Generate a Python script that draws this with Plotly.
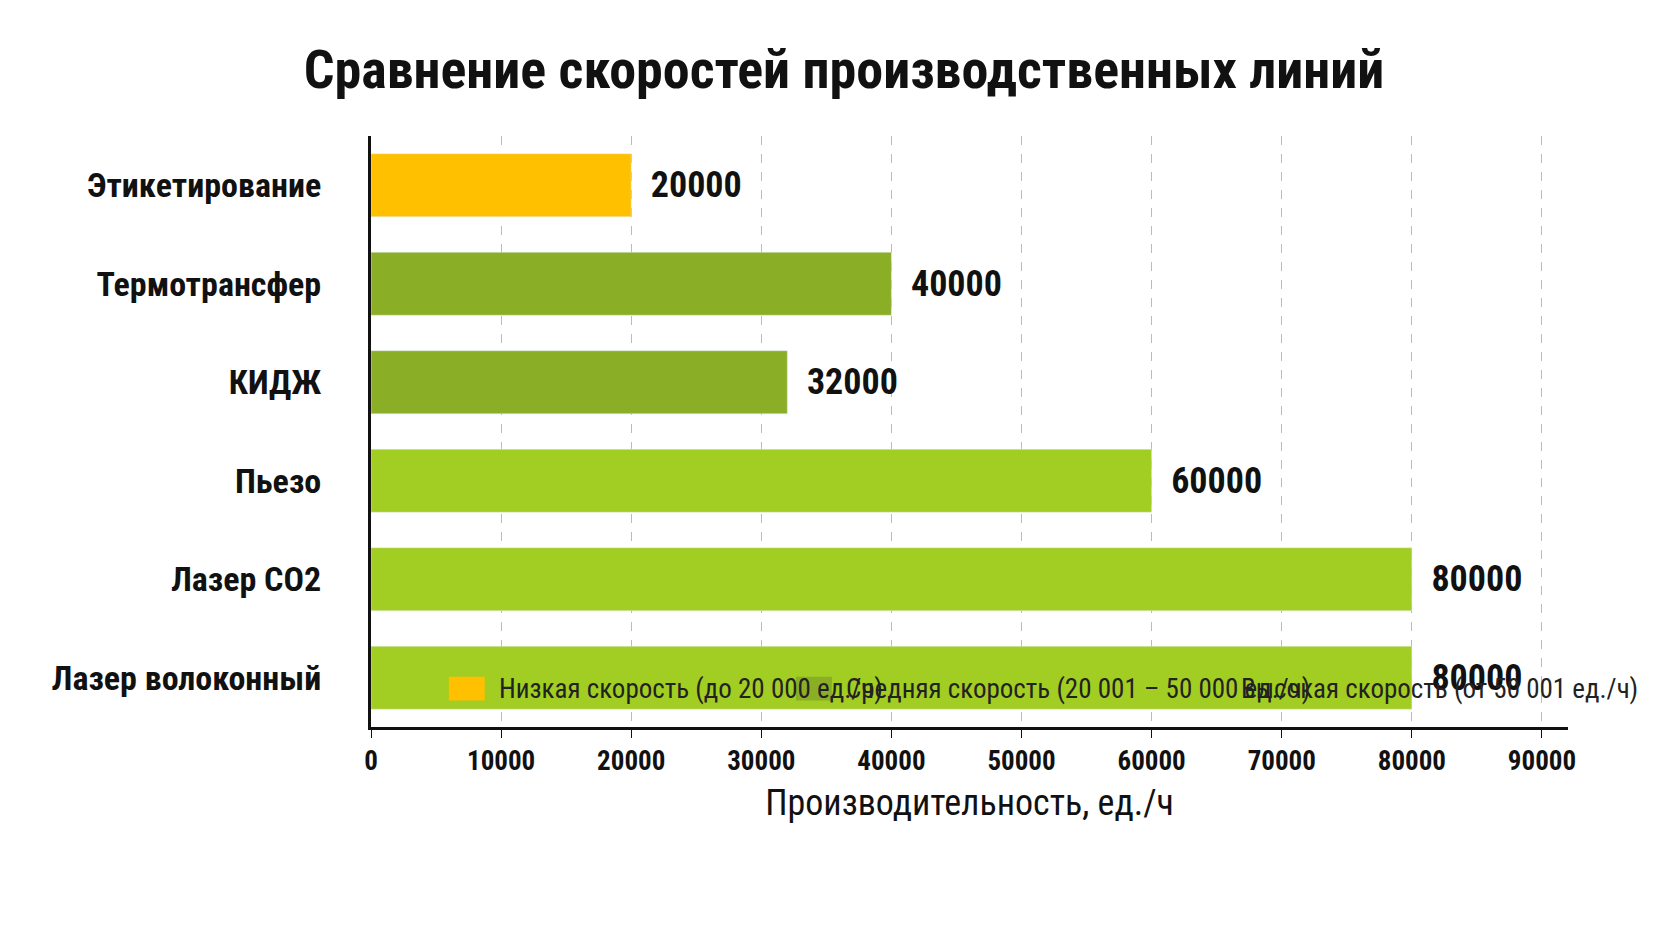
import plotly.graph_objects as go

lines = ["Этикетирование", "Термотрансфер", "КИДЖ", "Пьезо", "Лазер CO2", "Лазер волоконный"]
speeds = [20000, 40000, 32000, 60000, 80000, 80000]
groups = ["low", "mid", "mid", "high", "high", "high"]

group_names = {
    "low": "Низкая скорость (до 20 000 ед./ч)",
    "mid": "Средняя скорость (20 001 – 50 000 ед./ч)",
    "high": "Высокая скорость (от 50 001 ед./ч)",
}
group_colors = {"low": "#FFC000", "mid": "#8BAE27", "high": "#A2CD22"}

FONT = "Roboto Condensed, Liberation Sans Narrow, DejaVu Sans Condensed, sans-serif"

fig = go.Figure()
for g in ["low", "mid", "high"]:
    ys = [l for l, gg in zip(lines, groups) if gg == g]
    xs = [s for s, gg in zip(speeds, groups) if gg == g]
    fig.add_trace(go.Bar(
        x=xs, y=ys, orientation="h", name=group_names[g],
        marker=dict(color=group_colors[g]), showlegend=False,
        text=["  <b>%d</b>" % v for v in xs], textposition="outside",
        textfont=dict(size=36, color="#111", family=FONT),
        cliponaxis=False, width=0.64,
    ))

# legend drawn by hand: big square swatches in one row
legend_x = [0.065, 0.355, 0.685]
for g, lx in zip(["low", "mid", "high"], legend_x):
    fig.add_shape(type="rect", xref="paper", yref="paper",
                  x0=lx, x1=lx + 0.03, y0=0.085, y1=0.045,
                  fillcolor=group_colors[g], line=dict(width=0))
    fig.add_annotation(text=group_names[g], xref="paper", yref="paper",
                       x=lx + 0.04, y=0.065, xanchor="left", yanchor="middle",
                       showarrow=False, font=dict(size=27, color="#222"))

fig.update_layout(
    width=1672, height=941,
    paper_bgcolor="white", plot_bgcolor="white",
    font=dict(family=FONT, color="#111"),
    barmode="overlay",
    title=dict(text="<b>Сравнение скоростей производственных линий</b>",
               x=0.5, xanchor="center", y=0.955, font=dict(size=54, color="#111")),
    margin=dict(l=363, r=112, t=128, b=222),
    xaxis=dict(range=[0, 92000], dtick=10000, showgrid=True, gridcolor="#bbb",
               griddash="dash", gridwidth=1, showline=True, linecolor="#111", linewidth=3,
               ticks="outside", ticklen=8, tickcolor="#111", tickformat="d",
               tickfont=dict(size=27, color="#111"),
               title=dict(text="Производительность, ед./ч", font=dict(size=36, color="#111"),
                          standoff=14)),
    yaxis=dict(categoryorder="array", categoryarray=lines[::-1], showline=True,
               linecolor="#111", linewidth=3, ticks="", ticklabelstandoff=40,
               tickfont=dict(size=34, color="#111")),
)
fig.update_yaxes(tickvals=lines, ticktext=["<b>%s</b>" % l for l in lines])
fig.update_xaxes(tickvals=list(range(0, 90001, 10000)),
                 ticktext=["<b>%d</b>" % v for v in range(0, 90001, 10000)])

fig.write_html("out.html")
